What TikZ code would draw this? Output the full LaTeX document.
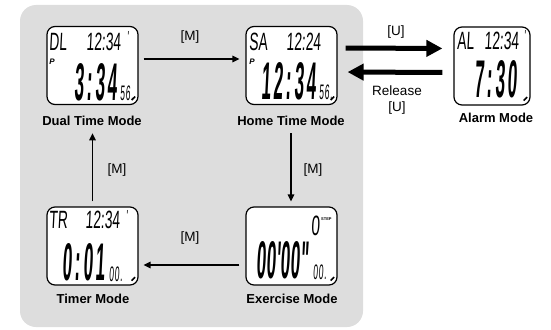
\documentclass[tikz,border=0pt]{standalone}
\usepackage{fontspec}
\setmainfont{Liberation Sans}
\newfontfamily\lcd[FakeStretch=0.55,FakeSlant=0.05]{Liberation Sans}
\newfontfamily\lcdnarrow[FakeStretch=0.4,FakeSlant=0.05,LetterSpace=4]{Liberation Sans}
\newfontfamily\lcdheavy[FakeStretch=0.32,FakeSlant=0.05,LetterSpace=5]{Liberation Sans Bold}
\usetikzlibrary{arrows.meta}
\definecolor{panelgray}{RGB}{221,221,221}
\newcommand\lcdtop{\lcd\fontsize{25}{25}\selectfont}
\newcommand\lcdbig{\lcdheavy\fontsize{53}{53}\selectfont}
\newcommand\lcdsmall{\lcdnarrow\fontsize{21}{21}\selectfont}
\newcommand\lcdtiny{\lcd\fontsize{16}{16}\selectfont}
\newcommand\pmark{\bfseries\itshape\fontsize{8}{8}\selectfont}

\begin{document}
\begin{tikzpicture}[x=1pt,y=-1pt,
    screen/.style={draw, line width=1.2pt, rounded corners=8pt, fill=white,
      minimum width=91pt, minimum height=78pt},
    modename/.style={font=\bfseries\fontsize{13}{13}\selectfont},
    keyname/.style={font=\fontsize{13.5}{15.5}\selectfont, align=center},
    seg/.style={inner sep=0pt},
    thinarrow/.style={line width=1.3pt, -{Triangle[length=7pt,width=6.5pt]}},
    fatarrow/.style={line width=5pt, -{Triangle[length=16pt,width=16pt]}}]
  \useasboundingbox (0,0) rectangle (551,329);
  \fill[panelgray, rounded corners=16pt] (20,5) rectangle (363,327);

  % screens
  \node[screen] (dual) at (92.5,65.5) {};
  \node[screen] (home) at (291.5,65.5) {};
  \node[screen, minimum width=76pt] (alarm) at (492,66) {};
  \node[screen] (timer) at (92.5,246) {};
  \node[screen] (exer) at (291.5,246) {};

  % mode names
  \node[modename] (duallbl) at (92,121) {Dual Time Mode};
  \node[modename] (homelbl) at (291,121) {Home Time Mode};
  \node[modename] (alarmlbl) at (496,118) {Alarm Mode};
  \node[modename] (timerlbl) at (93,299) {Timer Mode};
  \node[modename] (exerlbl) at (292,299) {Exercise Mode};

  % dual time display
  \node[seg, anchor=base west, font=\lcdtop] (dualday) at (49,51) {DL};
  \node[seg, anchor=base east, font=\lcdtop] (dualclock) at (121,51) {12:34};
  \node[seg, anchor=north west, font=\lcdtiny] (dualtick) at (127,31) {'};
  \node[seg, font=\pmark] (dualpm) at (52,62) {P};
  \node[seg, anchor=base east, font=\lcdbig] (dualtime) at (117,100) {3:34};
  \node[seg, anchor=base west, font=\lcdsmall] (dualsec) at (120,100) {56.};

  % home time display
  \node[seg, anchor=base west, font=\lcdtop] (homeday) at (249,51) {SA};
  \node[seg, anchor=base east, font=\lcdtop] (homeclock) at (321,51) {12:24};
  \node[seg, font=\pmark] (homepm) at (252,62) {P};
  \node[seg, anchor=base east, font=\lcdbig] (hometime) at (316,99) {12:34};
  \node[seg, anchor=base west, font=\lcdsmall] (homesec) at (319,99) {56.};

  % alarm display
  \node[seg, anchor=base west, font=\lcdtop] (alarmday) at (457,49) {AL};
  \node[seg, anchor=base east, font=\lcdtop] (alarmclock) at (519,49) {12:34};
  \node[seg, anchor=north west, font=\lcdtiny] (alarmtick) at (524,30) {'};
  \node[seg, anchor=base east, font=\lcdbig] (alarmtime) at (517,97) {7:30};

  % timer display
  \node[seg, anchor=base west, font=\lcdtop] (timerday) at (49,228) {TR};
  \node[seg, anchor=base east, font=\lcdtop] (timerclock) at (120,228) {12:34};
  \node[seg, anchor=north west, font=\lcdtiny] (timertick) at (126,210) {'};
  \node[seg, anchor=base east, font=\lcdbig] (timertime) at (105,280) {0:01};
  \node[seg, anchor=base west, font=\lcdsmall] (timersec) at (109,281) {00.};

  % exercise display
  \node[seg, anchor=base east, font=\lcd\fontsize{28}{28}\selectfont] (exersteps) at (320,235) {0};
  \node[seg, anchor=base west, font=\bfseries\fontsize{4}{4}\selectfont] (exerunit) at (321,220) {STEP};
  \node[seg, anchor=base east, font=\lcdbig\addfontfeature{LetterSpace=1}] (exertime) at (309,278) {00'00"};
  \node[seg, anchor=base west, font=\lcdsmall] (exersec) at (313,279) {00.};

  % pencil marks
  \foreach \s in {dual,home,alarm,timer,exer}
    \draw[line width=1.5pt] ([shift={(-7,-5)}]\s.south east) -- ++(3.5,-3.5);

  % transitions
  \draw[thinarrow, shorten <=5pt, shorten >=6pt] ([yshift=6.5pt]dual.east) -- ([yshift=6.5pt]home.west);
  \draw[fatarrow, shorten <=8pt, shorten >=11pt] ([yshift=17.5pt]home.east) -- ([yshift=17.5pt]alarm.west);
  \draw[fatarrow, shorten <=11pt, shorten >=10pt] ([yshift=-6.5pt]alarm.west) -- ([yshift=-6.5pt]home.east);
  \draw[thinarrow, shorten <=4pt, shorten >=5pt] (homelbl.south) -- (homelbl.south |- exer.north);
  \draw[thinarrow, shorten <=6pt, shorten >=5pt] ([yshift=-19pt]exer.west) -- ([yshift=-19pt]timer.east);
  \draw[thinarrow, shorten <=5pt, shorten >=4pt] (timer.north) -- (timer.north |- duallbl.south);

  % key labels
  \node[keyname] (m1) at (190,37) {[M]};
  \node[keyname] (u1) at (396,32) {[U]};
  \node[keyname] (u2) at (397,100) {Release\\{[U]}};
  \node[keyname] (m2) at (313,170) {[M]};
  \node[keyname] (m3) at (190,238) {[M]};
  \node[keyname] (m4) at (117,170) {[M]};
\end{tikzpicture}
\end{document}
